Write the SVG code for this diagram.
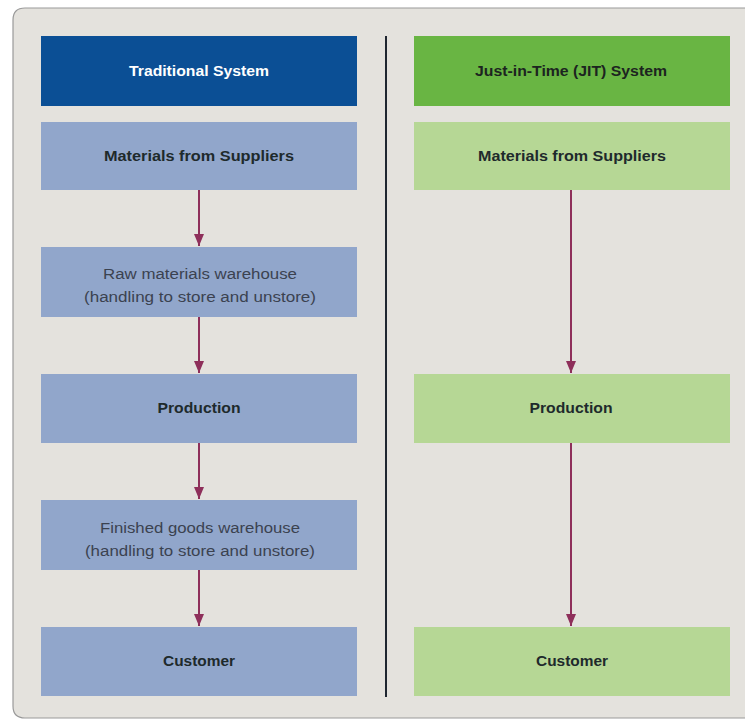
<svg xmlns="http://www.w3.org/2000/svg" width="745" height="719" viewBox="0 0 745 719">
  <defs>
    <marker id="arrowhead" viewBox="0 0 12 10" refX="12" refY="5" markerWidth="12" markerHeight="10" markerUnits="userSpaceOnUse" orient="auto">
      <path d="M0,0 L12,5 L0,10 Z" fill="#8e2f5a"/>
    </marker>
    <style>
      .panel { fill: #e4e2dd; stroke: #9a9a9a; stroke-width: 1.2; }
      .trad-head { fill: #0b4f95; }
      .trad-box { fill: #91a6cb; }
      .jit-head { fill: #69b543; }
      .jit-box { fill: #b6d795; }
      .head-text { font-family: "Liberation Sans", Arial, sans-serif; font-weight: bold; font-size: 14px; text-anchor: middle; }
      .box-text { font-family: "Liberation Sans", Arial, sans-serif; font-weight: bold; font-size: 14px; text-anchor: middle; fill: #1e2a2c; }
      .note-text { font-family: "Liberation Sans", Arial, sans-serif; font-size: 14px; text-anchor: middle; fill: #3b4250; }
      .flow { stroke: #8e2f5a; stroke-width: 2; fill: none; marker-end: url(#arrowhead); }
      .divider { stroke: #1f2630; stroke-width: 2; }
    </style>
  </defs>

  <rect x="0" y="0" width="745" height="719" fill="#ffffff"/>
  <path class="panel" d="M13,20 Q13,8 25,8 L760,8 L760,718 L25,718 Q13,718 13,706 Z"/>

  <line class="divider" x1="386" y1="36" x2="386" y2="697"/>

  <!-- Traditional system column -->
  <g id="trad-header">
    <rect class="trad-head" x="41" y="36" width="316" height="70"/>
    <text class="head-text" x="199" y="76" fill="#ffffff" textLength="140" lengthAdjust="spacingAndGlyphs">Traditional System</text>
  </g>
  <g id="trad-materials">
    <rect class="trad-box" x="41" y="122" width="316" height="68"/>
    <text class="box-text" x="199" y="161" textLength="190" lengthAdjust="spacingAndGlyphs">Materials from Suppliers</text>
  </g>
  <g id="trad-raw-warehouse">
    <rect class="trad-box" x="41" y="247" width="316" height="70"/>
    <text class="note-text" x="200" y="279" textLength="194" lengthAdjust="spacingAndGlyphs">Raw materials warehouse</text>
    <text class="note-text" x="200" y="302" textLength="232" lengthAdjust="spacingAndGlyphs">(handling to store and unstore)</text>
  </g>
  <g id="trad-production">
    <rect class="trad-box" x="41" y="374" width="316" height="69"/>
    <text class="box-text" x="199" y="413" textLength="83" lengthAdjust="spacingAndGlyphs">Production</text>
  </g>
  <g id="trad-finished-warehouse">
    <rect class="trad-box" x="41" y="500" width="316" height="70"/>
    <text class="note-text" x="200" y="533" textLength="200" lengthAdjust="spacingAndGlyphs">Finished goods warehouse</text>
    <text class="note-text" x="200" y="556" textLength="230" lengthAdjust="spacingAndGlyphs">(handling to store and unstore)</text>
  </g>
  <g id="trad-customer">
    <rect class="trad-box" x="41" y="627" width="316" height="69"/>
    <text class="box-text" x="199" y="666" textLength="72" lengthAdjust="spacingAndGlyphs">Customer</text>
  </g>

  <!-- Just-in-time column -->
  <g id="jit-header">
    <rect class="jit-head" x="414" y="36" width="316" height="70"/>
    <text class="head-text" x="571" y="76" fill="#1c2420" textLength="192" lengthAdjust="spacingAndGlyphs">Just-in-Time (JIT) System</text>
  </g>
  <g id="jit-materials">
    <rect class="jit-box" x="414" y="122" width="316" height="68"/>
    <text class="box-text" x="572" y="161" textLength="188" lengthAdjust="spacingAndGlyphs">Materials from Suppliers</text>
  </g>
  <g id="jit-production">
    <rect class="jit-box" x="414" y="374" width="316" height="69"/>
    <text class="box-text" x="571" y="413" textLength="83" lengthAdjust="spacingAndGlyphs">Production</text>
  </g>
  <g id="jit-customer">
    <rect class="jit-box" x="414" y="627" width="316" height="69"/>
    <text class="box-text" x="572" y="666" textLength="72" lengthAdjust="spacingAndGlyphs">Customer</text>
  </g>

  <!-- Flow connectors -->
  <g id="connectors">
    <line class="flow" x1="199" y1="190" x2="199" y2="246"/>
    <line class="flow" x1="199" y1="317" x2="199" y2="373"/>
    <line class="flow" x1="199" y1="443" x2="199" y2="499"/>
    <line class="flow" x1="199" y1="570" x2="199" y2="626"/>
    <line class="flow" x1="571" y1="190" x2="571" y2="373"/>
    <line class="flow" x1="571" y1="443" x2="571" y2="626"/>
  </g>
</svg>
